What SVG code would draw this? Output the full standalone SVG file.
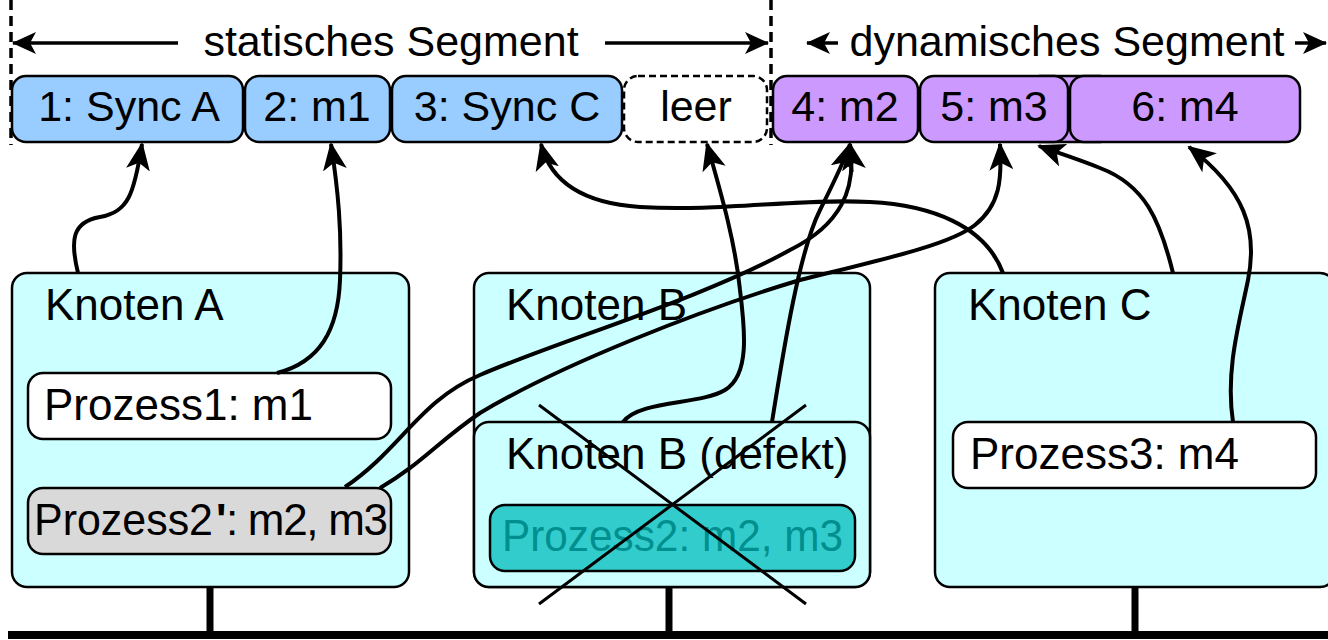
<svg xmlns="http://www.w3.org/2000/svg" width="1328" height="640" viewBox="0 0 1328 640">
<defs>
<style>
text{font-family:"Liberation Sans",Arial,sans-serif;font-size:43px;fill:#000}
.lbl{font-size:44px}
.slotS{fill:#99ccff;stroke:#000;stroke-width:2.5}
.slotD{fill:#cc99ff;stroke:#000;stroke-width:2.5}
.node{fill:#ccffff;stroke:#000;stroke-width:2.5}
.proc{fill:#fff;stroke:#000;stroke-width:2.5}
.conn{fill:none;stroke:#000;stroke-width:4;marker-end:url(#ah)}
.hdr{fill:none;stroke:#000;stroke-width:3.5}
.dash{fill:none;stroke:#000;stroke-width:3.5;stroke-dasharray:10,6}
.bus{stroke:#000;stroke-width:8}
.mid{text-anchor:middle}
</style>
<marker id="ah" markerUnits="userSpaceOnUse" markerWidth="28" markerHeight="24" viewBox="0 0 28 24" refX="26" refY="12" orient="auto">
<path d="M0,0 L28,12 L0,24 L7,12 Z" fill="#000"/>
</marker>
<marker id="ah2" markerUnits="userSpaceOnUse" markerWidth="24" markerHeight="22" viewBox="0 0 24 22" refX="23" refY="11" orient="auto">
<path d="M0,0 L24,11 L0,22 L6,11 Z" fill="#000"/>
</marker>
</defs>
<rect width="1328" height="640" fill="#fff"/>

<g id="header">
<line class="dash" x1="11" y1="0" x2="11" y2="145"/>
<line class="dash" x1="771" y1="0" x2="771" y2="145"/>
<line class="hdr" x1="178" y1="43" x2="13" y2="43" marker-end="url(#ah2)"/>
<line class="hdr" x1="605" y1="43" x2="768" y2="43" marker-end="url(#ah2)"/>
<text x="391" y="56" class="mid" font-size="45">statisches Segment</text>
<line class="hdr" x1="838" y1="43" x2="807" y2="43" marker-end="url(#ah2)"/>
<line class="hdr" x1="1295" y1="43" x2="1326" y2="43" marker-end="url(#ah2)"/>
<text x="1067" y="56" class="mid" font-size="45">dynamisches Segment</text>
</g>

<g id="slots">
<rect x="1040" y="76" width="60" height="66" class="slotD"/>
<g id="slot1"><rect x="12" y="76" width="231" height="66" rx="14" class="slotS"/><text x="129" y="121" class="mid">1: Sync A</text></g>
<g id="slot2"><rect x="245" y="76" width="145" height="66" rx="14" class="slotS"/><text x="317" y="121" class="mid">2: m1</text></g>
<g id="slot3"><rect x="392" y="76" width="230" height="66" rx="14" class="slotS"/><text x="507" y="121" class="mid">3: Sync C</text></g>
<g id="slot-leer"><rect x="624" y="76" width="143" height="66" rx="14" fill="#fff" stroke="#000" stroke-width="2.5" stroke-dasharray="7,4"/><text x="696" y="121" class="mid">leer</text></g>
<g id="slot4"><rect x="773" y="76" width="145" height="66" rx="14" class="slotD"/><text x="845" y="121" class="mid">4: m2</text></g>
<g id="slot5"><rect x="920" y="76" width="148" height="66" rx="14" class="slotD"/><text x="994" y="121" class="mid">5: m3</text></g>
<g id="slot6"><rect x="1070" y="76" width="230" height="66" rx="14" class="slotD"/><text x="1185" y="121" class="mid">6: m4</text></g>
</g>

<g id="bus">
<line class="bus" x1="8" y1="635" x2="1328" y2="635"/>
<line x1="210" y1="586" x2="210" y2="635" stroke="#000" stroke-width="7"/>
<line x1="669" y1="586" x2="669" y2="635" stroke="#000" stroke-width="7"/>
<line x1="1135" y1="586" x2="1135" y2="635" stroke="#000" stroke-width="7"/>
</g>

<g id="knotenA">
<rect x="12" y="273" width="397" height="314" rx="15" class="node"/>
<text x="45" y="320" class="lbl">Knoten A</text>
<g id="prozess1"><rect x="28" y="373" width="363" height="66" rx="15" class="proc"/><text x="44" y="420" class="lbl">Prozess1: m1</text></g>
<g id="prozess2p"><rect x="28" y="488" width="363" height="66" rx="15" fill="#d9d9d9" stroke="#000" stroke-width="2.5"/>
<text x="34" y="535" class="lbl" textLength="179" lengthAdjust="spacingAndGlyphs">Prozess2</text>
<text x="216" y="535" class="lbl" font-weight="bold">'</text>
<text x="226" y="535" class="lbl" textLength="162" lengthAdjust="spacing">: m2, m3</text>
</g>
</g>

<g id="knotenB">
<rect x="474" y="273" width="396" height="314" rx="15" class="node"/>
<text x="506" y="320" class="lbl">Knoten B</text>
</g>

<g id="knotenB-defekt">
<rect x="474" y="422" width="396" height="165" rx="15" class="node"/>
<text x="506" y="469" class="lbl">Knoten B (defekt)</text>
<g id="prozess2"><rect x="490" y="505" width="365" height="66" rx="15" fill="#33cccc" stroke="#000" stroke-width="2.5"/><text x="502" y="551" class="lbl" style="fill:#008f8f" textLength="341" lengthAdjust="spacingAndGlyphs">Prozess2: m2, m3</text></g>
<line x1="539" y1="405" x2="806" y2="604" stroke="#000" stroke-width="3"/>
<line x1="806" y1="405" x2="539" y2="604" stroke="#000" stroke-width="3"/>
</g>

<g id="knotenC">
<rect x="935" y="273" width="400" height="314" rx="15" class="node"/>
<text x="968" y="320" class="lbl">Knoten C</text>
<g id="prozess3"><rect x="953" y="422" width="363" height="66" rx="15" class="proc"/><text x="970" y="469" class="lbl">Prozess3: m4</text></g>
</g>

<g id="connectors">
<path class="conn" d="M78,273 C70,240 72,222 100,217 C128,212 134,195 142,144"/>
<path class="conn" d="M277,373 C320,362 338,330 340,280 C342,230 338,190 331,144"/>
<path class="conn" d="M1003,273 C985,225 930,205 870,202 C800,198 720,212 640,207 C580,203 550,180 541,144"/>
<path class="conn" d="M623,422 C640,400 700,405 725,390 C750,375 745,330 740,290 C735,240 720,190 707,144"/>
<path class="conn" d="M772,422 C785,340 800,250 820,210 C835,180 845,160 850,144"/>
<path class="conn" d="M345,487 C400,450 420,400 480,375 C560,340 700,300 790,250 C840,225 857,190 850,144"/>
<path class="conn" d="M380,488 C420,465 440,440 480,413 C560,365 700,310 800,280 C880,260 950,245 975,225 C1000,205 1002,180 1000,144"/>
<path class="conn" d="M1173,273 C1160,220 1145,185 1100,168 C1075,158 1055,152 1039,146"/>
<path class="conn" d="M1233,422 C1225,370 1240,320 1248,280 C1258,230 1245,190 1189,147"/>
</g>
</svg>
